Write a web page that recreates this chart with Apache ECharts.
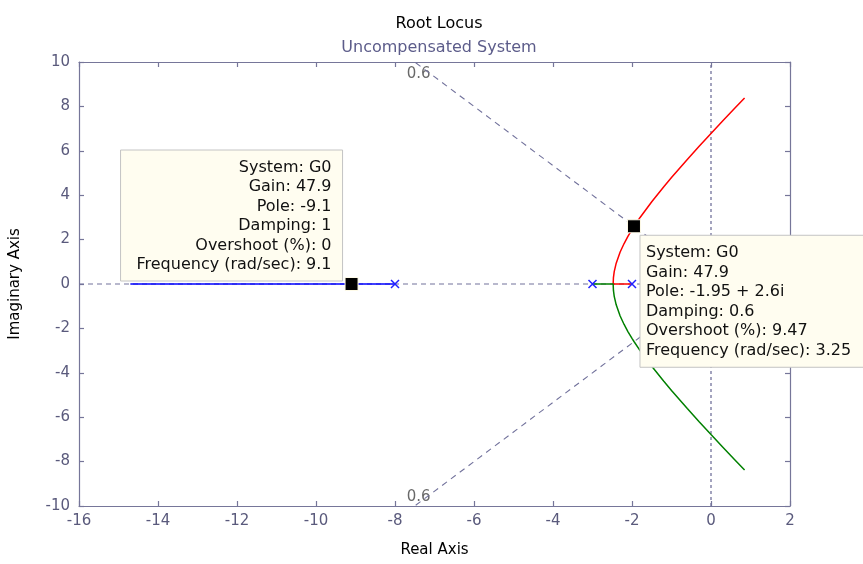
<!DOCTYPE html>
<html><head><meta charset="utf-8">
<script src="https://cdn.jsdelivr.net/npm/echarts@6/dist/echarts.min.js"></script>
<style>html,body{margin:0;padding:0;background:#fff}#c{width:863px;height:564px}</style>
</head><body><div id="c"></div>
<script>
// ---- data ----
var xTicks = [-16, 2, 2];            // min, max, interval of Real Axis
var yTicks = [-10, 10, 2];           // min, max, interval of Imaginary Axis
var openLoopPoles = [[-8, 0], [-3, 0], [-2, 0]];
var blueBranch = [[-8, 0], [-14.7, 0]];
var redBranch = [[-2, 0], [-2.477, 0], [-2.47, 0.29], [-2.45, 0.555], [-2.4, 0.938], [-2.3, 1.439], [-2.2, 1.822], [-2.1, 2.152], [-2.0, 2.449], [-1.95, 2.59], [-1.8, 2.987], [-1.5, 3.708], [-1.2, 4.373], [-1.0, 4.796], [-0.6, 5.611], [-0.3, 6.202], [0, 6.782], [0.3, 7.353], [0.6, 7.917], [0.85, 8.383]];
var greenBranch = [[-3, 0], [-2.477, 0], [-2.47, -0.29], [-2.45, -0.555], [-2.4, -0.938], [-2.3, -1.439], [-2.2, -1.822], [-2.1, -2.152], [-2.0, -2.449], [-1.95, -2.59], [-1.8, -2.987], [-1.5, -3.708], [-1.2, -4.373], [-1.0, -4.796], [-0.6, -5.611], [-0.3, -6.202], [0, -6.782], [0.3, -7.353], [0.6, -7.917], [0.85, -8.383]];
var dampUpper = [[0, 0], [-7.5, 10]];
var dampLower = [[0, 0], [-7.5, -10]];
var dampLabels = [[-7.4, 9.45, '0.6'], [-7.4, -9.6, '0.6']];
var realAxisLine = [[-16, 0], [2, 0]];
var imagAxisLine = [[0, -10], [0, 10]];
var selectedPoints = [[-9.1, 0], [-1.95, 2.6]];
var leftInfo = ['System: G0', 'Gain: 47.9', 'Pole: -9.1', 'Damping: 1', 'Overshoot (%): 0', 'Frequency (rad/sec): 9.1'];
var rightInfo = ['System: G0', 'Gain: 47.9', 'Pole: -1.95 + 2.6i', 'Damping: 0.6', 'Overshoot (%): 9.47', 'Frequency (rad/sec): 3.25'];

var FONT = 'DejaVu Sans';
var axisColor = '#767699';
var labelColor = '#5a5a7c';
var gridColor = '#72729c';

var chart = echarts.init(document.getElementById('c'), null, {renderer: 'canvas'});

function axisCommon(extra) {
  var a = {
    type: 'value',
    axisLine: {show: true, onZero: false, lineStyle: {color: axisColor, width: 1.2}},
    axisTick: {show: true, inside: true, length: 5, lineStyle: {color: axisColor, width: 1.2}},
    splitLine: {show: false},
    axisLabel: {show: true, color: labelColor, fontFamily: FONT, fontSize: 15}
  };
  for (var k in extra) a[k] = extra[k];
  return a;
}

var option = {
  animation: false,
  backgroundColor: '#ffffff',
  title: [
    {text: 'Root Locus', left: 434, textAlign: 'center', top: 11,
     textStyle: {fontFamily: FONT, fontSize: 16, fontWeight: 'normal', color: '#000000'}},
    {text: 'Uncompensated System', left: 434, textAlign: 'center', top: 35,
     textStyle: {fontFamily: FONT, fontSize: 16, fontWeight: 'normal', color: '#5c5c8a'}}
  ],
  grid: {left: 79, right: 73, top: 62, bottom: 58, containLabel: false},
  xAxis: [
    axisCommon({min: xTicks[0], max: xTicks[1], interval: xTicks[2], position: 'bottom',
      name: 'Real Axis', nameLocation: 'middle', nameGap: 37,
      nameTextStyle: {fontFamily: FONT, fontSize: 15, color: '#000'},
      axisLabel: {color: labelColor, fontFamily: FONT, fontSize: 15, margin: 8}}),
    axisCommon({min: xTicks[0], max: xTicks[1], interval: xTicks[2], position: 'top',
      axisLabel: {show: false}})
  ],
  yAxis: [
    axisCommon({min: yTicks[0], max: yTicks[1], interval: yTicks[2], position: 'left',
      name: 'Imaginary Axis', nameLocation: 'middle', nameGap: 56, nameRotate: 90,
      nameTextStyle: {fontFamily: FONT, fontSize: 15, color: '#000'},
      axisLabel: {color: labelColor, fontFamily: FONT, fontSize: 15, margin: 9}}),
    axisCommon({min: yTicks[0], max: yTicks[1], interval: yTicks[2], position: 'right',
      axisLabel: {show: false}})
  ],
  series: [
    {type: 'line', data: realAxisLine, symbol: 'none', silent: true,
     lineStyle: {color: gridColor, width: 1.1, type: [5, 4]}},
    {type: 'line', data: imagAxisLine, symbol: 'none', silent: true,
     lineStyle: {color: gridColor, width: 1.3, type: [3, 3]}},
    {type: 'line', data: dampUpper, symbol: 'none', silent: true,
     lineStyle: {color: gridColor, width: 1.1, type: [6, 5]}},
    {type: 'line', data: dampLower, symbol: 'none', silent: true,
     lineStyle: {color: gridColor, width: 1.1, type: [6, 5]}},
    {type: 'scatter', data: dampLabels, symbolSize: 0, silent: true,
     label: {show: true, position: 'inside', formatter: function (p) { return p.data[2]; },
       color: '#444444', fontFamily: FONT, fontSize: 15}},
    {type: 'line', data: blueBranch, symbol: 'none', lineStyle: {color: '#0000ff', width: 1.7}},
    {type: 'line', data: redBranch, symbol: 'none', lineStyle: {color: '#ff0000', width: 1.5}},
    {type: 'line', data: greenBranch, symbol: 'none', lineStyle: {color: '#008000', width: 1.5}},
    {type: 'scatter', data: openLoopPoles, symbol: 'path://M0,0L10,10M10,0L0,10', symbolSize: 8, z: 8,
     itemStyle: {color: 'rgba(0,0,0,0)', borderColor: '#2020ff', borderWidth: 1.5, opacity: 1}},
    {type: 'scatter', data: selectedPoints, symbol: 'rect', symbolSize: 13, z: 10,
     itemStyle: {color: '#000000', borderColor: '#fffbe8', borderWidth: 1, opacity: 1}}
  ]
};
chart.setOption(option);

function addBoxes() {
  var pL = chart.convertToPixel({gridIndex: 0}, selectedPoints[0]);
  var pR = chart.convertToPixel({gridIndex: 0}, selectedPoints[1]);
  var boxStyle = {fill: '#fffdf0', stroke: '#c4c4c4', lineWidth: 1};
  var f = '16px "DejaVu Sans"';
  var lx1 = pL[0] - 9, ly1 = pL[1] - 3;
  var rx0 = pR[0] + 6, ry0 = pR[1] + 9;
  chart.setOption({graphic: [
    {type: 'rect', shape: {x: lx1 - 222, y: ly1 - 131, width: 222, height: 131}, style: boxStyle, z: 20},
    {type: 'text', x: lx1 - 11, y: ly1 - 131 + 8, z: 21,
     style: {text: leftInfo.join('\n'), align: 'right', verticalAlign: 'top',
       font: f, fill: '#111111', lineHeight: 19.5}},
    {type: 'rect', shape: {x: rx0, y: ry0, width: 260, height: 132}, style: boxStyle, z: 20},
    {type: 'text', x: rx0 + 6, y: ry0 + 8, z: 21,
     style: {text: rightInfo.join('\n'), align: 'left', verticalAlign: 'top',
       font: f, fill: '#111111', lineHeight: 19.5}}
  ]});
}
addBoxes();
</script>
</body></html>
